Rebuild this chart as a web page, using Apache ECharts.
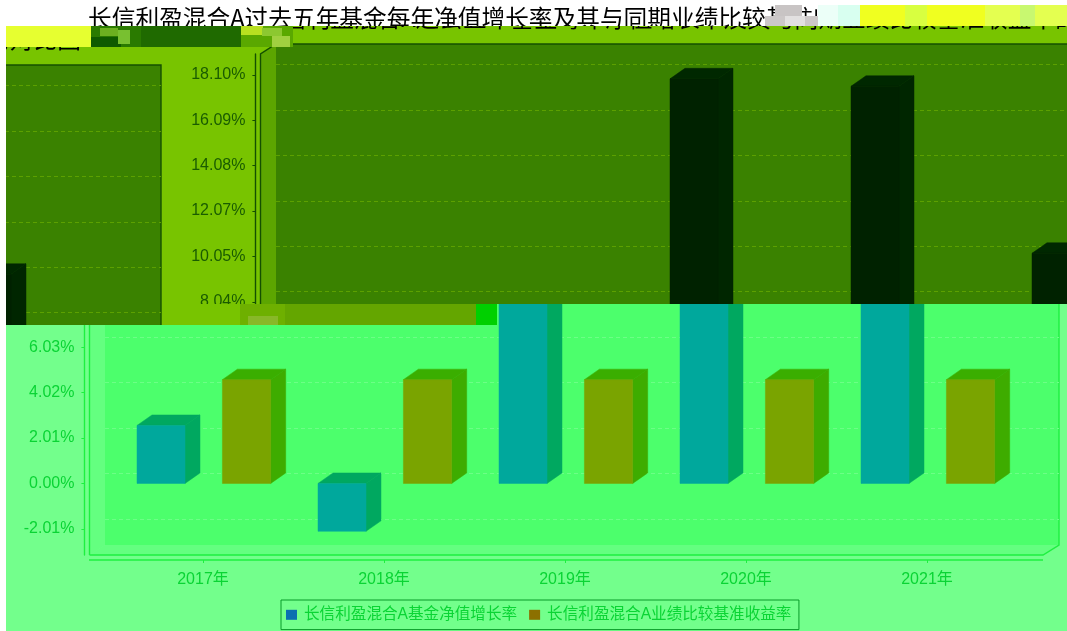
<!DOCTYPE html>
<html><head><meta charset="utf-8">
<style>
html,body{margin:0;padding:0;background:#fff;width:1067px;height:631px;overflow:hidden}
.clip{position:absolute;overflow:hidden}
.inner{position:absolute;width:1067px;height:631px}
</style>
<script src="https://cdn.jsdelivr.net/npm/echarts@6/dist/echarts.min.js"></script>
</head><body>
<script>
const titleText = '长信利盈混合A过去五年基金每年净值增长率及其与同期业绩比较基准收益率的对比图';
const categories = ['2017年','2018年','2019年','2020年','2021年'];
const fundName = '长信利盈混合A基金净值增长率';
const benchName = '长信利盈混合A业绩比较基准收益率';
const fundValues = [2.57,-2.12,17.93,17.6,10.2];
const benchValues = [4.6,4.6,4.6,4.6,4.6];
const tickValues = [-2.0115,0,2.0115,4.023,6.0345,8.046,10.0575,12.069,14.0805,16.092,18.1035];
const tickLabels = ['-2.01%','0.00%','2.01%','4.02%','6.03%','8.04%','10.05%','12.07%','14.08%','16.09%','18.10%'];

const bright = {bg:'#73FF8C',wall:'#4CFF6C',side:'#64FF80',line:'#1EF040',grid:'#6CFF86',text:'#0AD434',title:'#10D838',
  tick:'#1EF040',fund:['#00A89C','#00A860','#00A860'],bench:['#7AA400','#3EAC00','#3AAE00'],
  swatch:['#0A70B0','#8C7000'],legendBorder:'#089A28'};
const dark = {bg:'#78C400',wall:'#3A8200',side:'#5CA600',line:'#145000',grid:'#5CA000',text:'#1A5C00',title:'#000000',
  tick:'#145000',fund:['#002200','#002600','#002800'],bench:['#2A4A00','#204E00','#1E5000'],
  swatch:['#002000','#2A3000'],legendBorder:'#145000'};

function barRenderer(cols, x0, x1){
  return function(params, api){
    const c = api.value(0), v = api.value(1);
    const p0 = api.coord([c,0]), p1 = api.coord([c,v]);
    const band = api.size([1,0])[0];
    const l = p0[0]+x0*band, r = p0[0]+x1*band, dx = 15, dy = 10.5;
    const hi = Math.min(p0[1],p1[1]), lo = Math.max(p0[1],p1[1]);
    return {type:'group',children:[
      {type:'polygon',shape:{points:[[r,hi],[r+dx,hi-dy],[r+dx,lo-dy],[r,lo]]},style:{fill:cols[1],stroke:cols[1],lineWidth:.5}},
      {type:'polygon',shape:{points:[[l,hi],[l+dx,hi-dy],[r+dx,hi-dy],[r,hi]]},style:{fill:cols[2],stroke:cols[2],lineWidth:.5}},
      {type:'rect',shape:{x:l,y:hi,width:r-l,height:lo-hi},style:{fill:cols[0],stroke:cols[0],lineWidth:.5}}
    ]};
  };
}
const labelFont = '"Liberation Sans","Noto Sans CJK SC",sans-serif';

function buildOption(p){
  const line = pts => ({type:'polyline',z:-5,shape:{points:pts},style:{stroke:p.line,lineWidth:1.4,fill:null}});
  return {
    animation:false,backgroundColor:p.bg,
    title:{text:titleText,left:'center',top:6,padding:0,textStyle:{color:p.title,fontSize:23.7,fontWeight:'normal',fontFamily:'"Noto Sans CJK SC",sans-serif'}},
    legend:{left:281,top:600,padding:[7,7.5,7,5],itemWidth:11,itemHeight:10,itemGap:12,icon:'rect',
      backgroundColor:p.bg,borderColor:p.legendBorder,borderWidth:1,
      textStyle:{color:p.text,fontSize:15.6,fontFamily:labelFont,padding:[0,0,0,2]},
      data:[{name:fundName,itemStyle:{color:p.swatch[0]}},{name:benchName,itemStyle:{color:p.swatch[1]}}]},
    graphic:{elements:[
      {type:'polygon',z:-10,shape:{points:[[89.5,54],[105,44],[105,545],[89.5,555]]},style:{fill:p.side}},
      {type:'polygon',z:-10,shape:{points:[[89.5,555],[105,545],[1059,545],[1043,555]]},style:{fill:p.side}},
      line([[89.5,555],[89.5,54],[105,44],[1059,44],[1059,545],[1043,555],[89.5,555]]),
      line([[89,560],[1043,560]])
    ]},
    grid:[
      {left:112.5,right:49.5,top:54,bottom:76},
      {left:105,right:8,top:44,bottom:86,show:true,backgroundColor:p.wall,borderWidth:0,z:-20}
    ],
    xAxis:[
      {type:'category',gridIndex:0,data:categories,offset:5,
       axisLine:{show:false,onZero:false},axisTick:{show:true,alignWithLabel:true,length:3,lineStyle:{color:p.tick}},
       axisLabel:{color:p.text,fontSize:16,fontFamily:labelFont,margin:12},splitLine:{show:false}},
      {type:'category',gridIndex:1,data:categories,show:false}
    ],
    yAxis:[
      {type:'value',gridIndex:0,min:-3.17,max:19.03,offset:28.1,position:'left',
       axisLine:{show:true,onZero:false,lineStyle:{color:p.line,width:1.4}},
       axisTick:{show:true,length:3,customValues:tickValues,lineStyle:{color:p.tick}},
       axisLabel:{color:p.text,fontSize:16,fontFamily:labelFont,margin:10,customValues:tickValues,
         formatter:v=>tickLabels[tickValues.indexOf(v)]},
       splitLine:{show:false}},
      {type:'value',gridIndex:1,min:-3.17,max:19.01,
       axisLine:{show:false},axisLabel:{show:false},
       axisTick:{show:false,customValues:tickValues},
       splitLine:{show:true,lineStyle:{color:p.grid,type:[4,3],width:1}}}
    ],
    series:[
      {name:fundName,type:'custom',xAxisIndex:0,yAxisIndex:0,clip:false,itemStyle:{color:p.swatch[0]},
       renderItem:barRenderer(p.fund,-66/181,-18/181),encode:{x:0,y:1},
       data:fundValues.map((v,i)=>[i,v])},
      {name:benchName,type:'custom',xAxisIndex:0,yAxisIndex:0,clip:false,itemStyle:{color:p.swatch[1]},
       renderItem:barRenderer(p.bench,19.4/181,67.7/181),encode:{x:0,y:1},
       data:benchValues.map((v,i)=>[i,v])}
    ]
  };
}

function layer(x,y,w,h,dx,dy){
  const c=document.createElement('div');c.className='clip';
  c.style.cssText=`left:${x}px;top:${y}px;width:${w}px;height:${h}px`;
  const n=document.createElement('div');n.className='inner';
  n.style.left=(dx-x)+'px';n.style.top=(dy-y)+'px';
  c.appendChild(n);document.body.appendChild(c);
  return echarts.init(n,null,{width:1067,height:631,renderer:'canvas'});
}
const blk=(x,y,w,h,fill)=>({type:'rect',shape:{x,y,width:w,height:h},style:{fill}});
// lower chart
const baseChart = layer(0,0,1067,631,0,0);
const baseOpt = buildOption(bright); baseOpt.title.show=false; baseChart.setOption(baseOpt);
// flat backing of the displaced bands
layer(6,26,234,299,0,0).setOption({animation:false,graphic:{elements:[blk(0,0,1067,631,dark.bg)]}});
// displaced upper band
layer(171,26,896,278,171,0).setOption(buildOption(dark));
// wrapped left panel
layer(6,47,163,278,-898,21).setOption(buildOption(dark));
// untouched title strip
layer(0,0,1067,26,0,0).setOption({animation:false,backgroundColor:'#fff',
  title:{text:titleText,left:'center',top:6,padding:0,textStyle:{color:'#000',fontSize:23.7,fontWeight:'normal',fontFamily:'"Noto Sans CJK SC",sans-serif'}}});
// decoding-damage blocks on top
const blocks=[
  blk(0,0,6,631,'#FFFFFF'),
  blk(6,26,85,21,'#E6FF30'),
  blk(91,26,50,21,'#2A7A00'),blk(91,37,30,10,'#0F5A00'),blk(100,28,18,8,'#6CB020'),blk(118,30,12,14,'#78C030'),
  blk(141,26,100,21,'#1F6A00'),
  blk(241,26,52,21,'#5AA800'),blk(241,26,22,9,'#B8E020'),blk(262,28,20,8,'#8CC830'),blk(272,36,18,11,'#A0D040'),
  blk(775,5,27,11,'#C8C4C4'),blk(765,16,53,10,'#CCC8C8'),blk(785,16,20,10,'#E2E0E0'),
  blk(818,5,42,21,'#ECFFF8'),blk(838,5,22,21,'#D8FFF0'),
  blk(860,5,207,21,'#F0FF20'),blk(905,5,22,21,'#D8FF40'),blk(985,5,82,21,'#E4FF50'),blk(1020,5,15,21,'#C8F870'),
  blk(240,304,45,21,'#6EB000'),blk(248,316,30,9,'#88B828'),
  blk(285,304,191,21,'#64A600'),
  blk(476,304,21,21,'#00D000')
];
const overlay=document.createElement('div');
overlay.style.cssText='position:absolute;left:0;top:0;width:1067px;height:631px;pointer-events:none';
document.body.appendChild(overlay);
echarts.init(overlay,null,{width:1067,height:631}).setOption({animation:false,backgroundColor:'transparent',graphic:{elements:blocks}});
</script>
</body></html>
